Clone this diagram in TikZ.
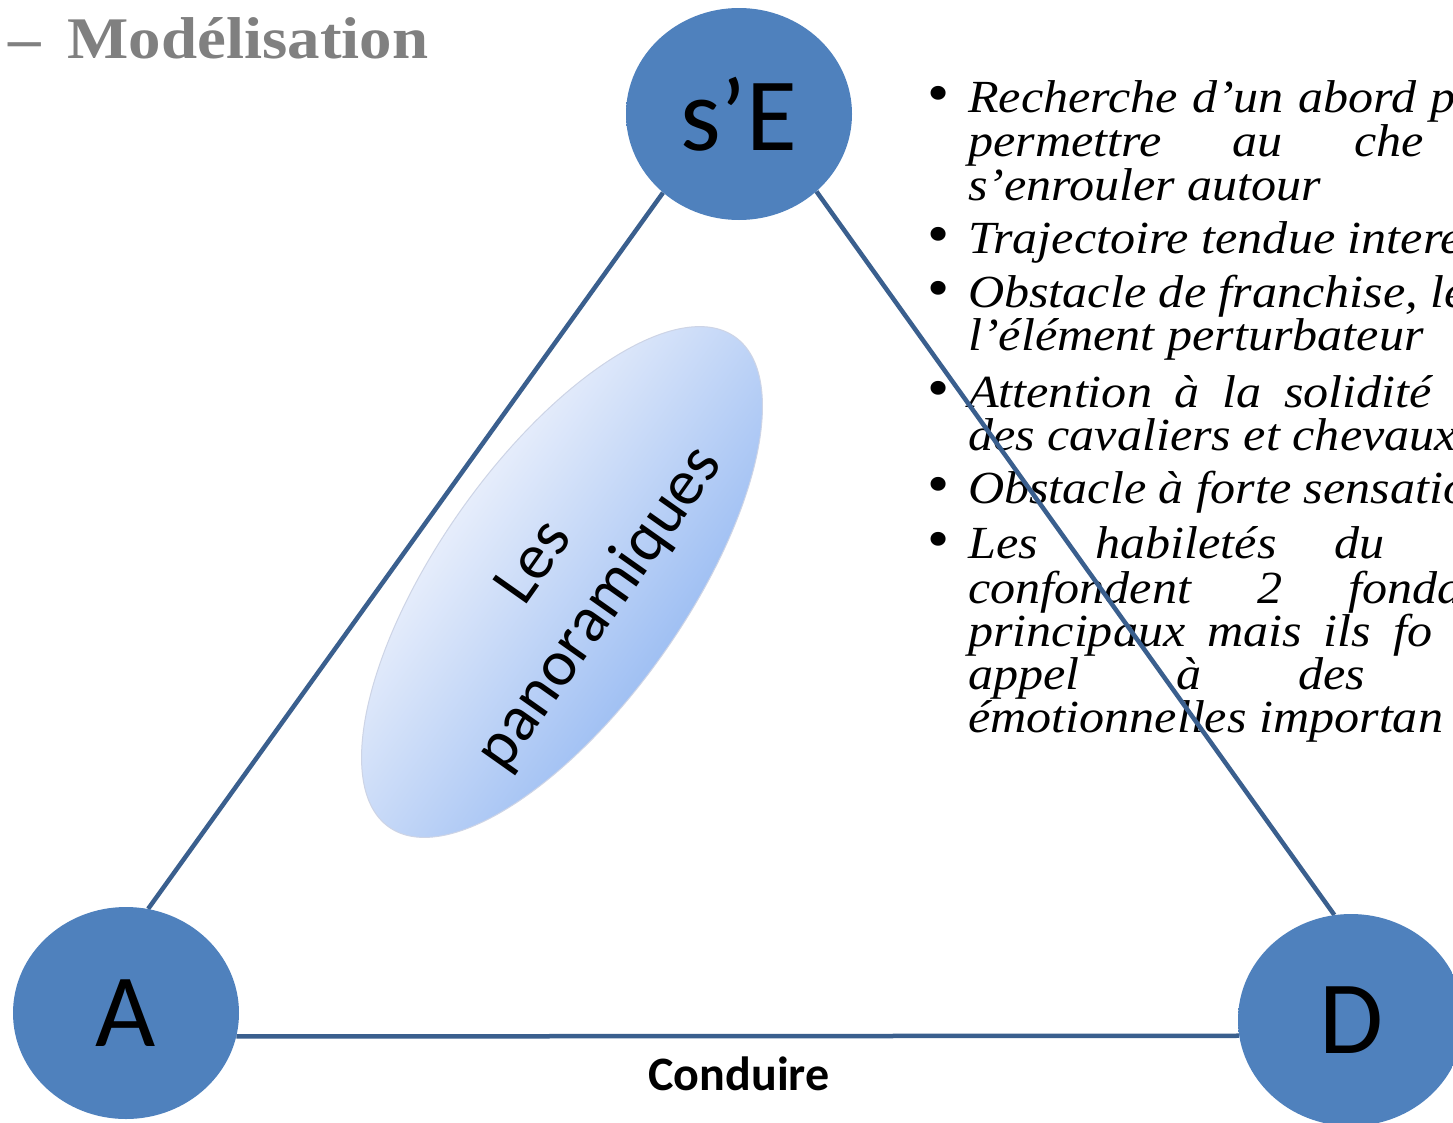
\documentclass[tikz,border=0pt]{standalone}
\usepackage{fontspec}
\setmainfont{Liberation Serif}
\newfontfamily\calfont{Carlito}
\newfontfamily\serfont[FakeStretch=1.1]{Liberation Serif}
\newfontfamily\txtfont[FakeStretch=1.09]{Liberation Serif}
\usetikzlibrary{shapes.geometric,backgrounds}
\definecolor{bubC}{RGB}{79,129,189}
\definecolor{bubM}{RGB}{86,136,196}
\definecolor{bubR}{RGB}{118,162,218}
\definecolor{lineC}{RGB}{58,95,142}
\definecolor{panL}{RGB}{230,237,251}
\definecolor{panD}{RGB}{160,192,243}
\definecolor{panE}{RGB}{205,212,230}
\definecolor{titC}{RGB}{128,128,128}
\pgfdeclareradialshading{bubble}{\pgfpoint{0bp}{0bp}}{color(0bp)=(bubC);color(36bp)=(bubC);color(46bp)=(bubM);color(50bp)=(bubR)}
\tikzset{
  bub/.style={ellipse, minimum width=226pt, minimum height=212pt, inner sep=0pt,
    shade, shading=bubble, text=black, font=\calfont\fontsize{104}{104}\selectfont},
  conn/.style={draw=lineC, line width=4.5pt},
  bt/.style={anchor=base west, inner sep=0pt, font=\txtfont\itshape\fontsize{46}{44}\selectfont},
  bul/.style={anchor=base west, inner sep=0pt, font=\txtfont\fontsize{58}{44}\selectfont}
}
\begin{document}
\begin{tikzpicture}[x=1pt,y=1pt]
\useasboundingbox (0,0) rectangle (1453,-1122);
\clip (0,0) rectangle (1453,-1122);

% circles
\node[bub] (sE) at (739,-114) {s’E};
\node[bub] (A) at (126,-1013) {A};
\node[bub] (D) at (1351,-1020) {D};

\begin{pgfonlayer}{background}
  \fill[white] (0,0) rectangle (1453,-1122);
  % bullets
  \node[bul] (u1) at (927,-112) {•};
  \node[bul] (u2) at (927,-253) {•};
  \node[bul] (u3) at (927,-307) {•};
  \node[bul] (u4) at (927,-407) {•};
  \node[bul] (u5) at (927,-503) {•};
  \node[bul] (u6) at (927,-558) {•};
  % text lines
  \node[bt] (l1) at (968,-112) {\hbox to 462pt{Recherche\hfill d’un\hfill abord\hfill\rlap{p}}};
  \node[bt] (l2) at (968,-156) {\hbox to 386pt{permettre\hfill au\hfill\rlap{che}}};
  \node[bt] (l3) at (968,-200) {s’enrouler autour};
  \node[bt] (l4) at (968,-253) {Trajectoire tendue intere};
  \node[bt] (l5) at (968,-307) {Obstacle de franchise, le};
  \node[bt] (l6) at (968,-350) {l’élément perturbateur};
  \node[bt] (l7) at (968,-407) {\hbox to 316pt{Attention\hfill à\hfill la\hfill\rlap{solidité}}};
  \node[bt] (l8) at (968,-450) {des cavaliers et chevaux};
  \node[bt] (l9) at (968,-503) {Obstacle à forte sensatio};
  \node[bt] (l10) at (968,-558) {\hbox to 366pt{Les\hfill habiletés\hfill\rlap{du}}};
  \node[bt] (l11) at (968,-603) {\hbox to 380pt{confondent\hfill 2\hfill\rlap{fonda}}};
  \node[bt] (l12) at (968,-646) {\hbox to 425pt{principaux\hfill mais\hfill ils\hfill\rlap{fo}}};
  \node[bt] (l13) at (968,-689) {\hbox to 330pt{appel\hfill à\hfill\rlap{des}}};
  \node[bt] (l14) at (968,-732) {émotionnelles importan};
  % connectors
  \draw[conn] (A.78) -- (sE.226);
  \draw[conn] (sE.-45) -- (D.99);
  \draw[conn] (A.-12) -- (D.188);
\end{pgfonlayer}

% title
\node[anchor=base west, inner sep=0pt, text=titC, font=\serfont\bfseries\fontsize{59}{59}\selectfont] (title) at (8,-58) {–\hspace{27pt}Modélisation};

% bottom label
\node[anchor=base, inner sep=0pt, font=\calfont\bfseries\fontsize{48}{48}\selectfont] (cond) at (739,-1090) {Conduire};

% panoramiques ellipse
\begin{scope}[transform canvas={rotate around={54.8:(562,-582)}}]
  \shade[top color=panL, bottom color=panD, draw=panE, line width=1pt] (562,-582) ellipse [x radius=300, y radius=124];
  \node[align=center, inner sep=0pt, font=\calfont\fontsize{65}{80}\selectfont] (pan) at (562,-590) {Les\\panoramiques};
\end{scope}
\end{tikzpicture}
\end{document}
